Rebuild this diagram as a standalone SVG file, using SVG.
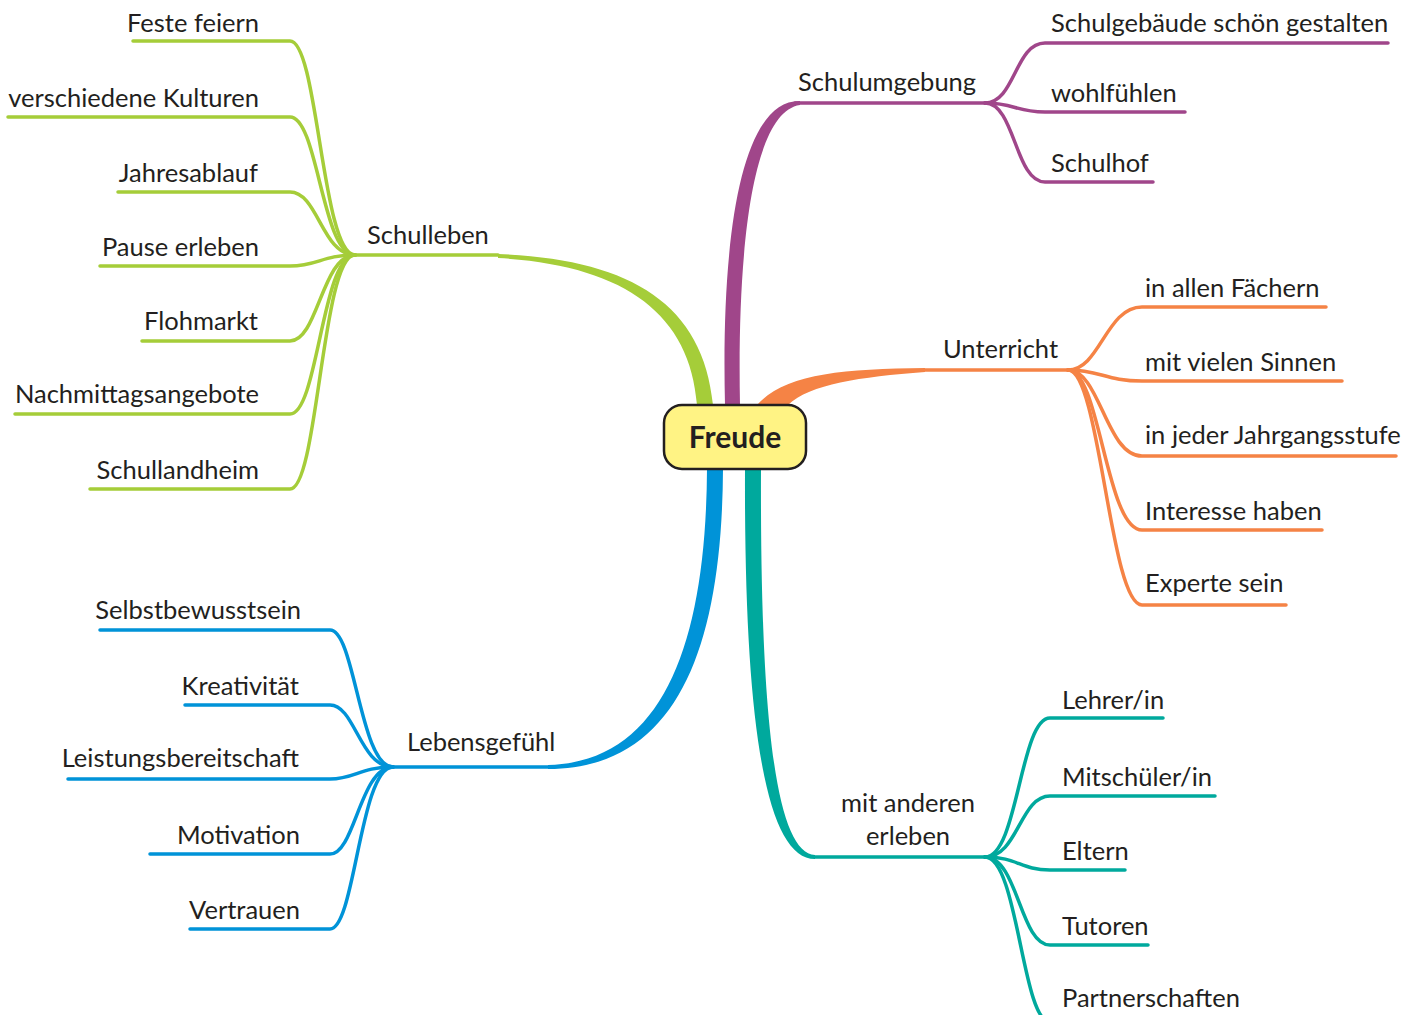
<svg xmlns="http://www.w3.org/2000/svg" width="1410" height="1015" viewBox="0 0 1410 1015">
<style>
text{font-family:Lato,"Open Sans","Liberation Sans",sans-serif;font-size:25.5px;fill:#231F20}
.l{text-anchor:end}
.g{stroke:#A5CD39}.p{stroke:#A0468A}.o{stroke:#F58345}.b{stroke:#0093D8}.t{stroke:#00A99D}
.c path{fill:none;stroke-width:3.5;stroke-linecap:round}
</style>
<rect width="1410" height="1015" fill="#fff"/>
<g id="connectors">
 <path d="M498 254 C628 259 703 302 713 405 L697 405 C690 312 622 265 498 258 Z" fill="#A5CD39"/>
 <path d="M725 405 C721 240 740 100 800 101 L800 105 C752 112 737 250 740 405 Z" fill="#A0468A"/>
 <path d="M757 405 C785 374 840 369 925 368 L925 372 C860 377 810 384 788 405 Z" fill="#F58345"/>
 <path d="M723 469 C722 650 676 769 548 769 L548 765 C665 762 706 640 707 469 Z" fill="#0093D8"/>
 <path d="M745 469 C744 720 765 859 815 859 L815 855 C776 853 760 720 761 469 Z" fill="#00A99D"/>
 <g class="c">
  <path class="g" d="M498 255 L355 255"/>
  <path class="g" d="M133 41 L290 41 C318 41 322 255 355 255"/>
  <path class="g" d="M8 117 L290 117 C318 117 322 255 355 255"/>
  <path class="g" d="M118 192 L290 192 C318 192 322 255 355 255"/>
  <path class="g" d="M100 266 L290 266 C318 266 322 255 355 255"/>
  <path class="g" d="M142 341 L290 341 C318 341 322 255 355 255"/>
  <path class="g" d="M15 414 L290 414 C318 414 322 255 355 255"/>
  <path class="g" d="M90 489 L290 489 C318 489 322 255 355 255"/>

  <path class="p" d="M795 103 L985 103"/>
  <path class="p" d="M985 103 C1015 103 1015 43 1045 43 L1388 43"/>
  <path class="p" d="M985 103 C1015 103 1015 112 1045 112 L1185 112"/>
  <path class="p" d="M985 103 C1015 103 1015 182 1045 182 L1153 182"/>

  <path class="o" d="M925 370 L1068 370"/>
  <path class="o" d="M1068 370 C1100 370 1106 307 1142 307 L1326 307"/>
  <path class="o" d="M1068 370 C1100 370 1106 381 1142 381 L1342 381"/>
  <path class="o" d="M1068 370 C1100 370 1106 456 1142 456 L1396 456"/>
  <path class="o" d="M1068 370 C1100 370 1106 530 1142 530 L1322 530"/>
  <path class="o" d="M1068 370 C1100 370 1110 605 1142 605 L1286 605"/>

  <path class="b" d="M548 767 L393 767"/>
  <path class="b" d="M100 630 L330 630 C355 630 360 767 393 767"/>
  <path class="b" d="M185 705 L330 705 C355 705 360 767 393 767"/>
  <path class="b" d="M68 779 L330 779 C355 779 360 767 393 767"/>
  <path class="b" d="M150 854 L330 854 C355 854 360 767 393 767"/>
  <path class="b" d="M190 929 L330 929 C355 929 360 767 393 767"/>

  <path class="t" d="M815 857 L985 857"/>
  <path class="t" d="M985 857 C1018 857 1020 718 1050 718 L1163 718"/>
  <path class="t" d="M985 857 C1018 857 1020 796 1050 796 L1215 796"/>
  <path class="t" d="M985 857 C1018 857 1020 870 1050 870 L1125 870"/>
  <path class="t" d="M985 857 C1018 857 1020 945 1050 945 L1148 945"/>
  <path class="t" d="M985 857 C1018 857 1022 1022 1050 1022 L1240 1022"/>
 </g>
</g>
<g id="freude">
 <rect x="664" y="405" width="142" height="64" rx="18" fill="#FFF384" stroke="#231F20" stroke-width="2.5"/>
 <text x="735" y="448" text-anchor="middle" style="font-weight:bold;font-size:30px">Freude</text>
</g>
<g id="schulleben"><text x="367" y="244">Schulleben</text></g>
<g id="feste-feiern"><text class="l" x="259" y="32">Feste feiern</text></g>
<g id="kulturen"><text class="l" x="259" y="107">verschiedene Kulturen</text></g>
<g id="jahresablauf"><text class="l" x="258" y="182">Jahresablauf</text></g>
<g id="pause"><text class="l" x="259" y="256">Pause erleben</text></g>
<g id="flohmarkt"><text class="l" x="258" y="330">Flohmarkt</text></g>
<g id="nachmittag"><text class="l" x="259" y="403">Nachmittagsangebote</text></g>
<g id="schullandheim"><text class="l" x="259" y="479">Schullandheim</text></g>

<g id="schulumgebung"><text x="798" y="91">Schulumgebung</text></g>
<g id="schulgebaeude"><text x="1051" y="32">Schulgebäude schön gestalten</text></g>
<g id="wohlfuehlen"><text x="1051" y="102">wohlfühlen</text></g>
<g id="schulhof"><text x="1051" y="172">Schulhof</text></g>

<g id="unterricht"><text x="943" y="358">Unterricht</text></g>
<g id="faechern"><text x="1145" y="297">in allen Fächern</text></g>
<g id="sinnen"><text x="1145" y="371">mit vielen Sinnen</text></g>
<g id="jahrgang"><text x="1145" y="444">in jeder Jahrgangsstufe</text></g>
<g id="interesse"><text x="1145" y="520">Interesse haben</text></g>
<g id="experte"><text x="1145" y="592">Experte sein</text></g>

<g id="lebensgefuehl"><text x="407" y="751">Lebensgefühl</text></g>
<g id="selbst"><text class="l" x="301" y="619">Selbstbewusstsein</text></g>
<g id="kreativ"><text class="l" x="299" y="695">Kreativität</text></g>
<g id="leistung"><text class="l" x="299" y="767">Leistungsbereitschaft</text></g>
<g id="motivation"><text class="l" x="300" y="844">Motivation</text></g>
<g id="vertrauen"><text class="l" x="300" y="919">Vertrauen</text></g>

<g id="mit-anderen"><text x="908" y="812" text-anchor="middle">mit anderen</text><text x="908" y="845" text-anchor="middle">erleben</text></g>
<g id="lehrer"><text x="1062" y="709">Lehrer/in</text></g>
<g id="mitschueler"><text x="1062" y="786">Mitschüler/in</text></g>
<g id="eltern"><text x="1062" y="860">Eltern</text></g>
<g id="tutoren"><text x="1062" y="935">Tutoren</text></g>
<g id="partner"><text x="1062" y="1007">Partnerschaften</text></g>
</svg>
